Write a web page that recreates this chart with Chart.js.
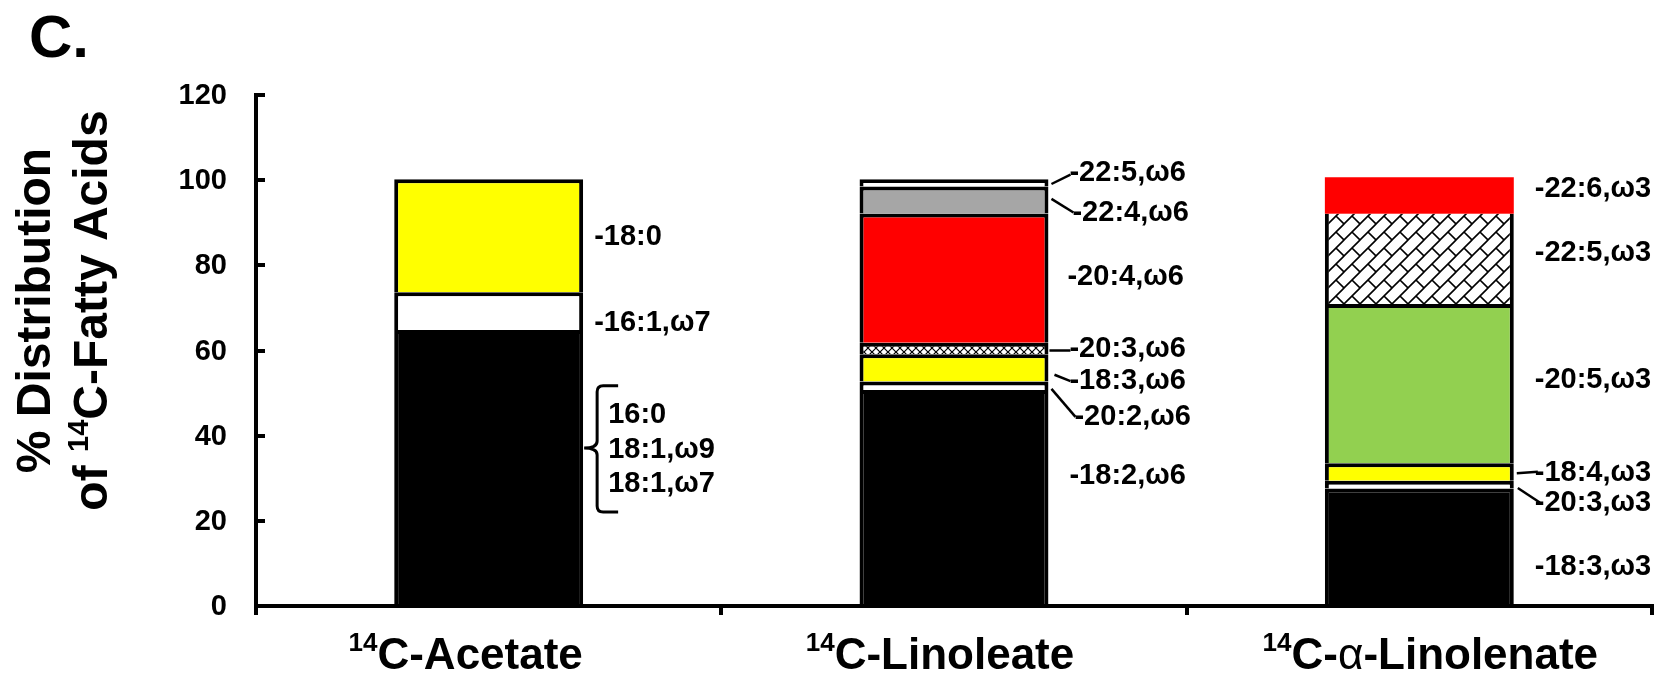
<!DOCTYPE html>
<html><head><meta charset="utf-8">
<script src="https://cdn.jsdelivr.net/npm/chart.js@4.4.0/dist/chart.umd.min.js"></script>
<style>html,body{margin:0;padding:0;background:#fff;overflow:hidden}</style>
</head><body>
<canvas id="c" width="1658" height="673"></canvas>
<script>
// ---------------- data ----------------
const categories = ['¹⁴C-Acetate', '¹⁴C-Linoleate', '¹⁴C-α-Linolenate'];
const acetateAcids = ['16:0 + 18:1,ω9 + 18:1,ω7', '16:1,ω7', '18:0'];
const acetateValues = [64.8, 8.9, 26.5];
const linoleateAcids = ['18:2,ω6', '20:2,ω6', '18:3,ω6', '20:3,ω6', '20:4,ω6', '22:4,ω6', '22:5,ω6'];
const linoleateValues = [50.7, 2.0, 6.4, 2.7, 30.4, 6.3, 1.7];
const linolenateAcids = ['18:3,ω3', '20:3,ω3', '18:4,ω3', '20:5,ω3', '22:5,ω3', '22:6,ω3'];
const linolenateValues = [27.6, 1.8, 4.1, 37.4, 21.2, 8.6];
const yTicks = [0, 20, 40, 60, 80, 100, 120];
const yTitleLines = ['% Distribution', 'of ¹⁴C-Fatty Acids'];
const panelLetter = 'C.';

// ---------------- styles ----------------
const FONT = '"Liberation Sans", Arial, Helvetica, sans-serif';
const acetateFills = ['black', 'white', 'yellow'];
const linoleateFills = ['black', 'white', 'yellow', 'hatchFine', 'red', 'gray', 'white'];
const linolenateFills = ['black', 'white', 'yellow', 'green', 'hatchBrick', 'redFlat'];

function makeBrick() {
  const s = 16, c = document.createElement('canvas'); c.width = c.height = s;
  const g = c.getContext('2d');
  g.fillStyle = '#fff'; g.fillRect(0, 0, s, s);
  g.strokeStyle = '#000'; g.lineWidth = 1.6; g.lineCap = 'square';
  g.beginPath();
  g.moveTo(-2, s + 2); g.lineTo(s + 2, -2);
  g.moveTo(-2, 2); g.lineTo(2, -2);
  g.moveTo(s - 2, s + 2); g.lineTo(s + 2, s - 2);
  g.moveTo(s / 2, s / 2); g.lineTo(s, s);
  g.stroke();
  return g.createPattern(c, 'repeat');
}
function makeFine() {
  const s = 8, c = document.createElement('canvas'); c.width = c.height = s;
  const g = c.getContext('2d');
  g.fillStyle = '#fff'; g.fillRect(0, 0, s, s);
  g.strokeStyle = '#000'; g.lineWidth = 1.2;
  g.beginPath(); g.moveTo(0, 0); g.lineTo(s, s); g.moveTo(s, 0); g.lineTo(0, s); g.stroke();
  return g.createPattern(c, 'repeat');
}
const fillMap = {
  black: '#000000', white: '#ffffff', yellow: '#ffff00', red: '#ff0000', redFlat: '#ff0000',
  gray: '#a6a6a6', green: '#92d050', hatchFine: makeFine(), hatchBrick: makeBrick()
};

const valuesByCat = [acetateValues, linoleateValues, linolenateValues];
const acidsByCat = [acetateAcids, linoleateAcids, linolenateAcids];
const fillsByCat = [acetateFills, linoleateFills, linolenateFills];
const nLayers = Math.max(...valuesByCat.map(a => a.length));

const datasets = [];
for (let i = 0; i < nLayers; i++) {
  datasets.push({
    label: 'layer ' + i,
    data: valuesByCat.map(v => (i < v.length ? v[i] : null)),
    backgroundColor: fillsByCat.map(f => (i < f.length ? fillMap[f[i]] : 'transparent')),
    borderColor: '#000',
    borderWidth: ctx => {
      const f = fillsByCat[ctx.dataIndex][ctx.datasetIndex];
      if (f === 'redFlat') return 0;
      if (f === 'hatchBrick') return {top: 0, left: 4, right: 4, bottom: 0};
      return 4;
    },
    borderSkipped: 'start',
    barPercentage: 0.406,
    categoryPercentage: 1.0
  });
}

// ---------------- annotation layout (axis units / px gaps) ----------------
const barLabelLayout = [
  {cat: 0, seg: 2, y: 86.7, dx: 11},
  {cat: 0, seg: 1, y: 66.5, dx: 11},
  {cat: 1, seg: 6, y: 101.6, dx: 21, leader: [99.1, 3, 101.3, 22]},
  {cat: 1, seg: 5, y: 92.4, dx: 24, leader: [95.6, 3, 92.4, 25]},
  {cat: 1, seg: 4, y: 77.3, dx: 19},
  {cat: 1, seg: 3, y: 60.4, dx: 21, leader: [60.0, 1, 60.0, 22]},
  {cat: 1, seg: 2, y: 52.8, dx: 21, leader: [54.3, 6, 52.8, 22]},
  {cat: 1, seg: 1, y: 44.3, dx: 26, leader: [51.0, 3, 44.4, 27]},
  {cat: 1, seg: 0, y: 30.5, dx: 21},
  {cat: 2, seg: 5, y: 97.9, dx: 21},
  {cat: 2, seg: 4, y: 82.9, dx: 21},
  {cat: 2, seg: 3, y: 53.1, dx: 21},
  {cat: 2, seg: 2, y: 31.2, dx: 21, leader: [31.2, 3, 31.5, 24]},
  {cat: 2, seg: 1, y: 24.2, dx: 21, leader: [27.7, 4, 24.3, 26]},
  {cat: 2, seg: 0, y: 9.2, dx: 21}
];
const braceLayout = {cat: 0, seg: 0, top: 51.7, tip: 37.1, bottom: 22.1, lineYs: [44.9, 36.6, 28.7], textDx: 25};
const xLabelShift = [-23, -14, 11];

// ---------------- text helpers ----------------
function toRuns(text, size, bold) {
  const w = bold ? 'bold ' : '';
  const runs = [];
  for (const p of text.split(/(¹⁴|α|ω)/)) {
    if (!p) continue;
    if (p === '¹⁴') runs.push({t: '14', font: `${w}${Math.round(size * 0.6)}px ${FONT}`, dy: -size * 0.40});
    else if (p === 'α') runs.push({t: p, font: `${size}px ${FONT}`, dy: 0});
    else runs.push({t: p, font: `${w}${size}px ${FONT}`, dy: 0});
  }
  return runs;
}
function runsWidth(ctx, runs) { let w = 0; for (const r of runs) { ctx.font = r.font; w += ctx.measureText(r.t).width; } return w; }
function drawRuns(ctx, runs, x, y, align) {
  const w = runsWidth(ctx, runs);
  let cx = align === 'center' ? x - w / 2 : (align === 'right' ? x - w : x);
  for (const r of runs) { ctx.font = r.font; ctx.fillText(r.t, cx, y + r.dy); cx += ctx.measureText(r.t).width; }
}

const decor = {
  id: 'decor',
  afterDraw(chart) {
    const ctx = chart.ctx, ys = chart.scales.y, xs = chart.scales.x, area = chart.chartArea;
    ctx.save();
    ctx.fillStyle = '#000'; ctx.strokeStyle = '#000';
    // panel letter
    ctx.textAlign = 'left'; ctx.textBaseline = 'alphabetic';
    ctx.font = `bold 60px ${FONT}`; ctx.fillText(panelLetter, 29, 57);
    // inward y ticks and tick labels
    ctx.lineWidth = 4; ctx.lineCap = 'butt';
    ctx.textBaseline = 'middle';
    for (const v of yTicks) {
      const py = Math.round(ys.getPixelForValue(v));
      ctx.beginPath(); ctx.moveTo(area.left, py); ctx.lineTo(area.left + 9, py); ctx.stroke();
      drawRuns(ctx, toRuns(String(v), 29, true), area.left - 29, py + 1, 'right');
    }
    ctx.textBaseline = 'alphabetic';
    // y title (rotated)
    const yc = (ys.getPixelForValue(0) + ys.getPixelForValue(120)) / 2 - 40;
    const baseX = [50, 107];
    yTitleLines.forEach((line, i) => {
      ctx.save(); ctx.translate(baseX[i], yc); ctx.rotate(-Math.PI / 2);
      drawRuns(ctx, toRuns(line, 48, true), 0, 0, 'center');
      ctx.restore();
    });
    // x category labels
    categories.forEach((c, i) => {
      drawRuns(ctx, toRuns(c, 44, true), xs.getPixelForValue(i) + xLabelShift[i], 669, 'center');
    });
    // bar labels
    const meta = chart.getDatasetMeta(0);
    const rightEdge = i => meta.data[i].x + meta.data[i].width / 2;
    ctx.textBaseline = 'middle';
    ctx.lineWidth = 2.5;
    for (const L of barLabelLayout) {
      const xr = rightEdge(L.cat);
      drawRuns(ctx, toRuns('-' + acidsByCat[L.cat][L.seg], 29, true), xr + L.dx, ys.getPixelForValue(L.y), 'left');
      if (L.leader) {
        const [y0, d0, y1, d1] = L.leader;
        ctx.beginPath();
        ctx.moveTo(xr + d0, ys.getPixelForValue(y0));
        ctx.lineTo(xr + d1, ys.getPixelForValue(y1));
        ctx.stroke();
      }
    }
    // brace for combined segment
    const B = braceLayout, xr = rightEdge(B.cat);
    const xv = xr + 14, xt = xr + 1, xe = xr + 35;
    const yT = ys.getPixelForValue(B.top), yM = ys.getPixelForValue(B.tip), yB = ys.getPixelForValue(B.bottom);
    ctx.lineWidth = 3;
    ctx.beginPath();
    ctx.moveTo(xe, yT); ctx.lineTo(xv + 6, yT); ctx.quadraticCurveTo(xv, yT, xv, yT + 6);
    ctx.lineTo(xv, yM - 7); ctx.quadraticCurveTo(xv, yM, xt, yM);
    ctx.quadraticCurveTo(xv, yM, xv, yM + 7);
    ctx.lineTo(xv, yB - 6); ctx.quadraticCurveTo(xv, yB, xv + 6, yB); ctx.lineTo(xe, yB);
    ctx.stroke();
    acidsByCat[B.cat][B.seg].split(' + ').forEach((t, k) => {
      drawRuns(ctx, toRuns(t, 29, true), xr + B.textDx, ys.getPixelForValue(B.lineYs[k]), 'left');
    });
    ctx.restore();
  }
};

new Chart(document.getElementById('c'), {
  type: 'bar',
  data: {labels: categories, datasets},
  options: {
    responsive: false, animation: false, devicePixelRatio: 1, events: [],
    layout: {padding: {left: 0, top: 95, right: 6, bottom: 0}},
    plugins: {legend: {display: false}, tooltip: {enabled: false}},
    scales: {
      x: {
        stacked: true,
        ticks: {display: false},
        grid: {display: true, offset: true, drawOnChartArea: false, drawTicks: true, tickLength: 9, lineWidth: 4, color: '#000'},
        border: {display: true, color: '#000', width: 4},
        afterFit: s => { s.height = 67; }
      },
      y: {
        stacked: true, min: 0, max: 120,
        afterBuildTicks: s => { s.ticks = yTicks.map(v => ({value: v})); },
        ticks: {display: false},
        grid: {display: false},
        border: {display: true, color: '#000', width: 4},
        afterFit: s => { s.width = 256; }
      }
    }
  },
  plugins: [decor]
});
</script>
</body></html>
